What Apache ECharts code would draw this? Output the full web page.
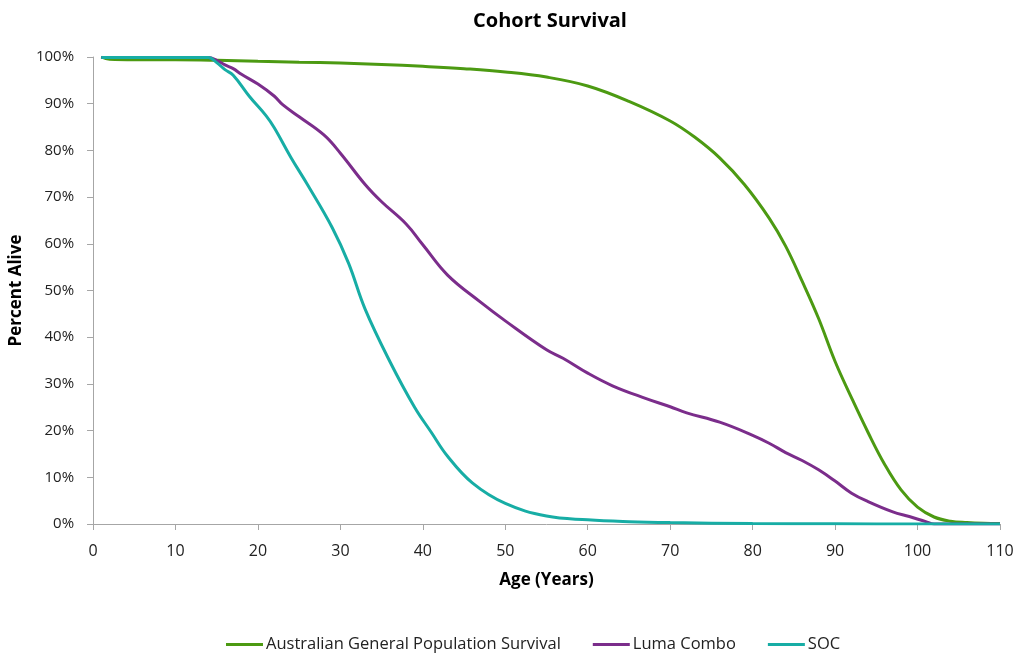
<!DOCTYPE html>
<html>
<head>
<meta charset="utf-8">
<title>Cohort Survival</title>
<script src="https://cdn.jsdelivr.net/npm/echarts@6/dist/echarts.min.js"></script>
<style>
  html, body { margin: 0; padding: 0; background: #fff; }
  #chart { width: 1019px; height: 657px; }
</style>
</head>
<body>
<div id="chart"></div>
<script>
// values (age in years, percent alive)
const generalAges = [1, 2, 5, 10, 15, 20, 25, 30, 35, 40, 45, 50, 55, 60, 65, 70, 73, 76, 79, 82, 84, 86, 88, 90, 92, 94, 96, 98, 100, 102, 104, 106, 108, 110]
const generalValues = [100, 99.5, 99.4, 99.4, 99.3, 99.1, 98.9, 98.7, 98.4, 98.0, 97.5, 96.8, 95.7, 93.8, 90.5, 86.3, 82.8, 78.4, 72.7, 65.5, 59.5, 52.0, 44.0, 34.8, 27.0, 19.6, 12.8, 7.3, 3.6, 1.5, 0.6, 0.3, 0.15, 0.1]

const lumaAges = [1, 5, 10, 14, 15, 16, 17, 18, 20, 22, 23, 25, 28, 30, 33, 35, 38, 40, 43, 47, 50, 55, 57, 60, 63, 67, 70, 72, 76, 80, 82, 84, 86, 88, 90, 92, 94, 97, 99, 101, 102, 110]
const lumaValues = [99.9, 99.9, 99.9, 99.9, 99.3, 98.3, 97.5, 96.3, 94.2, 91.6, 89.8, 87.2, 83.3, 79.4, 72.7, 69.0, 64.2, 59.8, 53.3, 47.5, 43.5, 37.3, 35.5, 32.3, 29.6, 26.9, 25.1, 23.8, 21.8, 19.0, 17.3, 15.3, 13.6, 11.6, 9.2, 6.6, 4.8, 2.6, 1.6, 0.5, 0, 0]

const socAges = [1, 5, 10, 14, 15, 16, 17, 19, 21, 22, 24, 26, 29, 31, 33, 36, 39, 41, 43, 46, 50, 55, 60, 65, 70, 80, 90, 100, 110]
const socValues = [99.9, 99.9, 99.9, 99.9, 98.8, 97.3, 96.1, 91.5, 87.4, 84.8, 78.5, 72.7, 63.5, 55.8, 46.0, 34.8, 25.0, 19.7, 14.5, 8.8, 4.4, 1.7, 0.9, 0.5, 0.3, 0.1, 0.05, 0, 0]

const seriesNames = ['Australian General Population Survival', 'Luma Combo', 'SOC']
const colors = ['#4c9a12', '#7b2d8b', '#17ada5']

const font = 'Open Sans'
const axisColor = '#a6a6a6'

// 把两个数组拼成点
function pairs(xs, ys) {
  return xs.map((x, i) => [x, ys[i]])
}

const chart = echarts.init(document.getElementById('chart'))

const lineSeries = [
  pairs(generalAges, generalValues),
  pairs(lumaAges, lumaValues),
  pairs(socAges, socValues)
].map((data, i) => {
  return {
    name: seriesNames[i],
    type: 'line',
    data: data,
    smooth: 0.4,
    symbol: 'none',
    lineStyle: { width: 3, color: colors[i] },
    itemStyle: { color: colors[i] }
  }
})

const option = {
  animation: false,
  textStyle: { fontFamily: font },
  color: colors,
  title: {
    text: 'Cohort Survival',
    left: 545,
    textAlign: 'center',
    top: 6,
    textStyle: { fontFamily: font, fontSize: 20, fontWeight: 'bold', color: '#000' }
  },
  legend: {
    data: seriesNames,
    top: 636,
    left: 226,
    icon: 'rect',
    itemWidth: 37,
    itemHeight: 3,
    itemGap: 32,
    padding: 0,
    textStyle: { fontFamily: font, fontSize: 16.5, color: '#222', padding: [0, 0, 0, -2] }
  },
  grid: {
    left: 93,
    right: 19,
    top: 57,
    bottom: 133,
    containLabel: false
  },
  xAxis: {
    type: 'value',
    min: 0,
    max: 110,
    interval: 10,
    name: 'Age (Years)',
    nameLocation: 'middle',
    nameGap: 48,
    nameTextStyle: { fontFamily: font, fontSize: 17, fontWeight: 'bold', color: '#000' },
    axisLine: { show: true, lineStyle: { color: axisColor, width: 1 } },
    axisTick: { show: true, length: 6, lineStyle: { color: axisColor } },
    axisLabel: { fontFamily: font, fontSize: 16, color: '#222', margin: 19 },
    splitLine: { show: false }
  },
  yAxis: {
    type: 'value',
    min: 0,
    max: 100,
    interval: 10,
    name: 'Percent Alive',
    nameLocation: 'middle',
    nameGap: 66,
    nameTextStyle: { fontFamily: font, fontSize: 17, fontWeight: 'bold', color: '#000' },
    axisLine: { show: true, lineStyle: { color: axisColor, width: 1 } },
    axisTick: { show: true, length: 6, lineStyle: { color: axisColor } },
    axisLabel: { fontFamily: font, fontSize: 15, color: '#222', margin: 19, formatter: '{value}%' },
    splitLine: { show: false }
  },
  series: lineSeries
}

chart.setOption(option)
</script>
</body>
</html>
